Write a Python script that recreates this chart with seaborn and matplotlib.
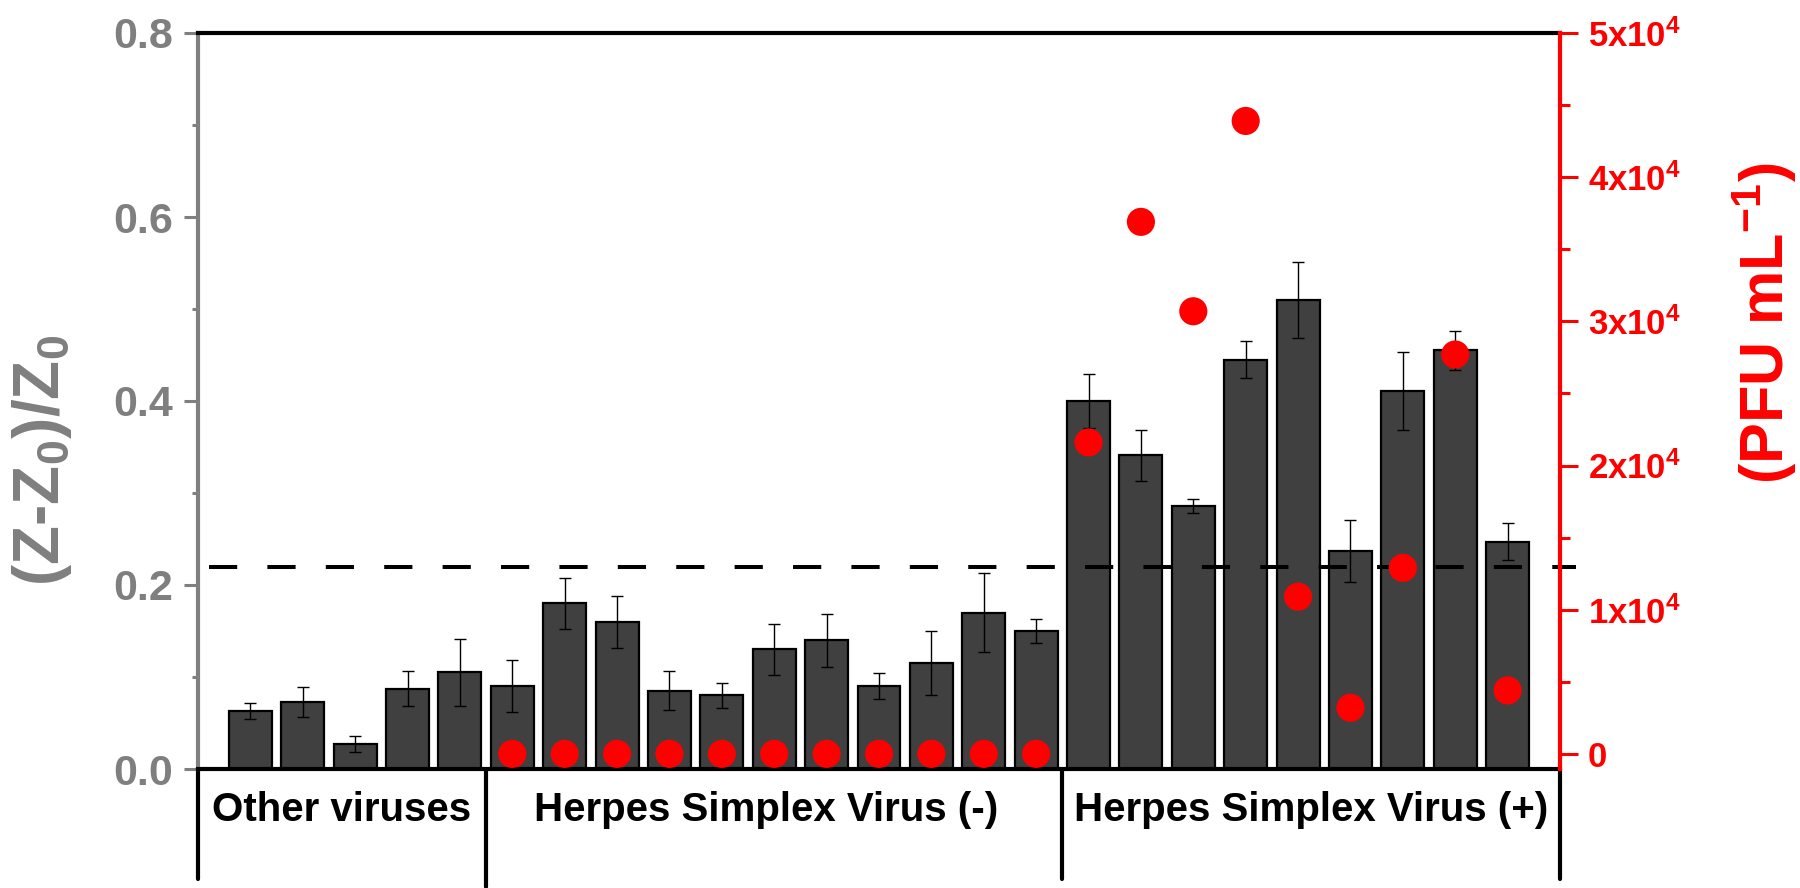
import numpy as np
import pandas as pd
import seaborn as sns
import matplotlib.pyplot as plt
from matplotlib.ticker import MultipleLocator


# impedance response (Z-Z0)/Z0 per sample, with error
other_resp = [ 0.063, 0.073, 0.027, 0.087, 0.105 ]
other_err = [ 0.009, 0.016, 0.009, 0.019, 0.036 ]

neg_resp = [ 0.090, 0.180, 0.160, 0.085, 0.080, 0.130, 0.140, 0.090, 0.115, 0.170, 0.150 ]
neg_err = [ 0.028, 0.028, 0.028, 0.021, 0.014, 0.028, 0.029, 0.014, 0.035, 0.043, 0.013 ]

pos_resp = [ 0.400, 0.341, 0.286, 0.445, 0.510, 0.237, 0.411, 0.455, 0.247 ]
pos_err = [ 0.029, 0.028, 0.008, 0.020, 0.041, 0.034, 0.042, 0.021, 0.020 ]

# plaque assay titres (right axis)
neg_pfu = [ 0, 0, 0, 0, 0, 0, 0, 0, 0, 0, 0 ]
pos_pfu = [ 21600, 36900, 30700, 43900, 10900, 3200, 12900, 27700, 4400 ]

groups = [ 'Other viruses', 'Herpes Simplex Virus (-)', 'Herpes Simplex Virus (+)' ]
threshold = 0.22

left_ticks = [ 0.0, 0.2, 0.4, 0.6, 0.8 ]
left_labels = [ '0.0', '0.2', '0.4', '0.6', '0.8' ]
right_ticks = [ 0, 10000, 20000, 30000, 40000, 50000 ]
right_labels = [ '0', '1x10$^4$', '2x10$^4$', '3x10$^4$', '4x10$^4$', '5x10$^4$' ]

GREY = '#7f7f7f'
BAR = '#404040'


def buildFrames():

	"""
	assemble bar and scatter dataframes
	"""

	resp = other_resp + neg_resp + pos_resp
	err = other_err + neg_err + pos_err
	bars = pd.DataFrame( { 'pos': np.arange( len( resp ) ), 'resp': resp, 'err': err } )

	n0 = len( other_resp )
	pfu = neg_pfu + pos_pfu
	dots = pd.DataFrame( { 'pos': np.arange( n0, n0 + len( pfu ) ), 'pfu': pfu } )

	return bars, dots


def plotChart( bars, dots ):

	"""
	bar chart with titre overlay
	"""

	fig = plt.figure( figsize=(18, 8.88), dpi=100 )
	ax = fig.add_axes( [ 198/1800, 1 - 769/888, 1362/1800, 736/888 ] )

	sns.barplot( data=bars, x='pos', y='resp', native_scale=True, width=0.82,
				color=BAR, saturation=1, edgecolor='black', linewidth=1.6,
				errorbar=None, ax=ax )
	ax.errorbar( bars['pos'], bars['resp'], yerr=bars['err'], fmt='none',
				ecolor='black', elinewidth=1.0, capsize=4.3, capthick=1.0, zorder=3 )

	ax.set_xlim( -1, 25 )
	ax.set_ylim( 0, 0.8 )

	# threshold line
	ax.plot( [ -0.79, 25.3 ], [ threshold, threshold ], color='black', lw=2.9,
			ls=(0, (7, 7.5)), clip_on=False, zorder=2.5 )

	# group separators and labels
	n0 = len( other_resp )
	n1 = n0 + len( neg_resp )
	trans = ax.get_xaxis_transform()
	for x, y1 in [ (-1, -0.15), (n0 - 0.5, -0.16), (n1 - 0.5, -0.15), (25, -0.15) ]:
		ax.plot( [ x, x ], [ 0, y1 ], color='black', lw=3, transform=trans, clip_on=False )

	for x, label in zip( [ 1.75, 9.85, 20.25 ], groups ):
		ax.text( x, -0.056, label, transform=trans, ha='center', va='center',
				fontsize=29, fontweight='bold', color='black' )

	# left axis styling
	ax.set_yticks( left_ticks )
	ax.set_yticklabels( left_labels )
	ax.yaxis.set_minor_locator( MultipleLocator( 0.1 ) )
	ax.tick_params( axis='y', which='both', left=True, direction='out', color=GREY,
					labelcolor=GREY, labelsize=31, width=2.2, pad=8 )
	ax.tick_params( axis='y', which='major', length=10 )
	ax.tick_params( axis='y', which='minor', length=4.5 )
	ax.tick_params( axis='x', bottom=False, labelbottom=False )
	ax.set_xlabel( '' )
	ax.set_ylabel( '(Z-Z$_0$)/Z$_0$', fontsize=46, fontweight='bold', color=GREY, va='center' )
	ax.yaxis.set_label_coords( -0.1145, 0.42 )

	ax.spines['left'].set_color( GREY )
	ax.spines['right'].set_visible( False )
	for s in [ 'left', 'bottom', 'top' ]:
		ax.spines[ s ].set_linewidth( 3 )
	ax.spines['bottom'].set_color( 'black' )
	ax.spines['top'].set_color( 'black' )

	# right axis with titres
	ax2 = ax.twinx()
	sns.scatterplot( data=dots, x='pos', y='pfu', s=410, color='red', edgecolor='none',
					linewidth=0, legend=False, ax=ax2, zorder=4 )
	ax2.set_ylim( -1050, 50000 )
	ax2.set_xlim( -1, 25 )
	ax2.set_yticks( right_ticks )
	ax2.set_yticklabels( right_labels )
	ax2.yaxis.set_minor_locator( MultipleLocator( 5000 ) )
	ax2.tick_params( axis='y', which='both', right=True, direction='out', color='red',
					labelcolor='red', labelsize=25, width=2.2, pad=7 )
	ax2.tick_params( axis='y', which='major', length=13 )
	ax2.tick_params( axis='y', which='minor', length=7.5 )
	ax2.set_xlabel( '' )
	ax2.set_ylabel( '(PFU mL$^{-1}$)', fontsize=44, fontweight='bold', color='red',
					rotation=90, va='center' )
	ax2.yaxis.set_label_coords( 1.1505, 0.605 )

	for s in [ 'left', 'bottom', 'top' ]:
		ax2.spines[ s ].set_visible( False )
	ax2.spines['right'].set_color( 'red' )
	ax2.spines['right'].set_linewidth( 3 )

	fig.savefig( 'out.png', dpi=100 )
	return


def main():

	"""
	main path of execution
	"""

	sns.set_theme( style='white' )
	plt.rcParams['font.family'] = [ 'Liberation Sans', 'DejaVu Sans' ]
	plt.rcParams['font.weight'] = 'bold'
	plt.rcParams['mathtext.fontset'] = 'custom'
	plt.rcParams['mathtext.rm'] = 'Liberation Sans:bold'
	plt.rcParams['mathtext.bf'] = 'Liberation Sans:bold'
	plt.rcParams['mathtext.default'] = 'bf'

	bars, dots = buildFrames()
	plotChart( bars, dots )

	return


# execute main
if __name__ == '__main__':
	main()
